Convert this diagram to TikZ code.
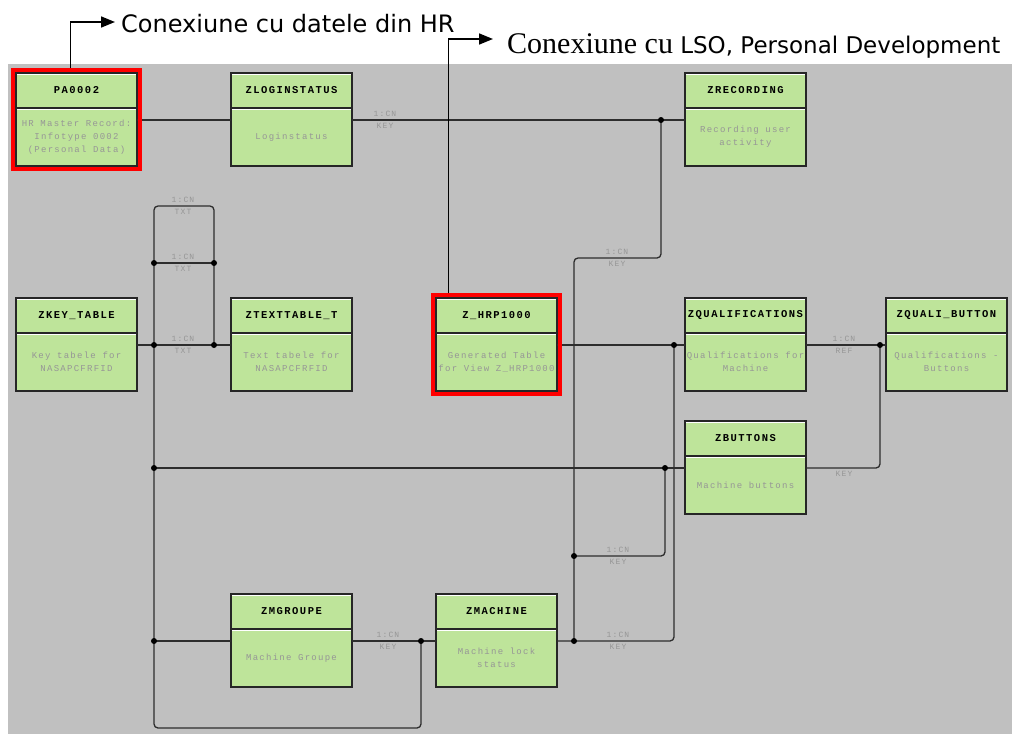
\documentclass[tikz,border=0pt]{standalone}
\usepackage{fontspec}
\usetikzlibrary{positioning,fit,arrows.meta}
\newfontfamily\notefont{DejaVu Sans}
\newfontfamily\noteserif{Liberation Serif}
\newfontfamily\titlefont[LetterSpace=14]{Liberation Mono}
\newfontfamily\smallfont[LetterSpace=14]{Liberation Mono}
\definecolor{boxgreen}{RGB}{190,228,154}
\definecolor{panel}{RGB}{192,192,192}
\definecolor{faint}{RGB}{150,150,150}
\definecolor{wire}{RGB}{45,45,45}
% one table: title bar, description under it, attach points left/right
\newcommand{\sapbox}[4]{%
  \node[head] (#1) at (#2) {#3};
  \node[body, below=0pt of #1] (#1-b) {#4};
  \coordinate (#1-w) at ([yshift=-12pt]#1-b.north west);
  \coordinate (#1-e) at ([yshift=-12pt]#1-b.north east);
}
% cardinality above / key below a line
\newcommand{\card}[4]{%
  \node[card, anchor=south] (#1-t) at (#2) {#3};
  \node[card, anchor=north] (#1-d) at (#2) {#4};
}

\begin{document}
\begin{tikzpicture}[x=1pt, y=-1pt,
    head/.style = {anchor=north west, draw=black!85, line width=1.2pt, fill=boxgreen,
                   minimum width=121pt, minimum height=35pt, inner sep=0pt, outer sep=0pt,
                   font=\titlefont\bfseries\fontsize{10.5}{12}\selectfont, bevel},
    body/.style = {draw=black!85, line width=1.2pt, fill=boxgreen, text=faint, align=flush center,
                   text width=121pt, minimum height=58pt, inner sep=0pt, outer sep=0pt,
                   font=\smallfont\fontsize{9}{13}\selectfont, bevel},
    bevel/.style = {path picture={\draw[white, line width=1pt]
                   ([yshift=-1.6pt]path picture bounding box.north west) --
                   ([yshift=-1.6pt]path picture bounding box.north east);}},
    card/.style = {text=faint, inner sep=3.5pt, font=\smallfont\fontsize{8}{9}\selectfont},
    link/.style = {draw=wire, line width=1.3pt, rounded corners=4pt},
    hilite/.style = {draw=red, line width=4pt, inner sep=3pt},
    note/.style = {anchor=west, inner xsep=6pt, text depth=0pt, font=\notefont\fontsize{24}{28}\selectfont},
    pointer/.style = {draw=black, line width=1.6pt, -{Triangle[length=14pt,width=11pt]}}]
  \useasboundingbox (0,0) rectangle (1034,734);
  \fill[panel] (8,64) rectangle (1012,734);

  \sapbox{pa}{16,73}{PA0002}{HR Master Record:\\Infotype 0002\\(Personal Data)}
  \sapbox{login}{231,73}{ZLOGINSTATUS}{Loginstatus}
  \sapbox{rec}{685,73}{ZRECORDING}{Recording user\\activity}
  \sapbox{keyt}{16,298}{ZKEY\_TABLE}{Key tabele for\\NASAPCFRFID}
  \sapbox{textt}{231,298}{ZTEXTTABLE\_T}{Text tabele for\\NASAPCFRFID}
  \sapbox{hrp}{436,298}{Z\_HRP1000}{Generated Table\\for View Z\_HRP1000}
  \sapbox{qual}{685,298}{ZQUALIFICATIONS}{Qualifications for\\Machine}
  \sapbox{qbtn}{886,298}{ZQUALI\_BUTTON}{Qualifications -\\Buttons}
  \sapbox{btns}{685,421}{ZBUTTONS}{Machine buttons}
  \sapbox{mgrp}{231,594}{ZMGROUPE}{Machine Groupe}
  \sapbox{mach}{436,594}{ZMACHINE}{Machine lock\\status}

  % junctions
  \coordinate (jrec) at ([xshift=-24pt]rec-w);
  \coordinate (jqual) at ([xshift=-11pt]qual-w);
  \coordinate (jbtn) at ([xshift=-20pt]btns-w);
  \coordinate (jqb) at ([xshift=-6pt]qbtn-w);
  \coordinate (jmach) at ([xshift=17pt]mach-e);
  \coordinate (jmach2) at ([yshift=85pt]jmach);
  \coordinate (jmachL) at ([xshift=-15pt]mach-w);
  \coordinate (jkey) at ([xshift=17pt]keyt-e);
  \coordinate (jtxt) at ([xshift=-17pt]textt-w);
  \coordinate (jt1) at ([yshift=82pt]jkey);
  \coordinate (jt2) at (jtxt |- jt1);
  \coordinate (ttop) at ([yshift=139pt]jkey);
  \coordinate (jleft) at (jkey |- btns-w);
  \coordinate (jmg) at (jkey |- mgrp-w);
  \coordinate (bot) at ([yshift=-87pt]mgrp-w);
  \coordinate (crec) at ([yshift=-138pt]rec-w);
  \coordinate (cbend) at (jmach |- crec);

  \path[link]
    (pa-e) edge (login-w)
    (login-e) edge (rec-w)
    (keyt-e) edge (textt-w)
    (jt1) edge (jt2)
    (hrp-e) edge (qual-w)
    (qual-e) edge (qbtn-w)
    (jleft) edge (btns-w)
    (jmg) edge (mgrp-w)
    (mgrp-e) edge (mach-w);
  \draw[link] (jkey) -- (jkey |- ttop) -- (jtxt |- ttop) -- (jtxt);
  \draw[link] (jkey) |- (bot) -| (jmachL);
  \draw[link] (jrec) -- (jrec |- crec) -| (jmach);
  \draw[link] (mach-e) -- (jmach) -| (jqual);
  \draw[link] (jmach2) -| (jbtn);
  \draw[link] (btns-e) -| (jqb);
  \foreach \j in {jrec,jqual,jbtn,jqb,jmach,jmach2,jmachL,jkey,jtxt,jt1,jt2,jleft,jmg}
    \fill (\j) circle (3pt);

  \card{c1}{[xshift=33pt]login-e}{1:CN}{KEY}
  \card{c2}{[xshift=29pt]jkey}{1:CN}{TXT}
  \card{c3}{[xshift=29pt]jt1}{1:CN}{TXT}
  \card{c4}{[xshift=29pt]ttop}{1:CN}{TXT}
  \card{c5}{[xshift=36pt]mgrp-e}{1:CN}{KEY}
  \card{c6}{[xshift=43pt]cbend}{1:CN}{KEY}
  \card{c7}{[xshift=44pt]jmach2}{1:CN}{KEY}
  \card{c8}{[xshift=44pt]jmach}{1:CN}{KEY}
  \card{c9}{[xshift=38pt]qual-e}{1:CN}{REF}
  \node[card, anchor=north] (c10) at ([xshift=38pt]btns-e) {KEY};

  % tables that link outside the module
  \node[hilite, fit=(pa)(pa-b)] (paframe) {};
  \node[hilite, fit=(hrp)(hrp-b)] (hrpframe) {};
  \node[note, text height=20pt] (hrnote) at (115,22) {Conexiune cu datele din HR};
  \draw[pointer] ([xshift=-6pt]paframe.north) |- (hrnote.west);
  \node[note, inner xsep=14pt, text height=28pt, font=\notefont\fontsize{23}{28}\selectfont] (lsonote) at (493,39)
    {{\noteserif\fontsize{30}{34}\selectfont Conexiune cu} LSO, Personal Development};
  \draw[pointer] ([xshift=-48pt]hrpframe.north) |- (lsonote.west);
\end{tikzpicture}
\end{document}
